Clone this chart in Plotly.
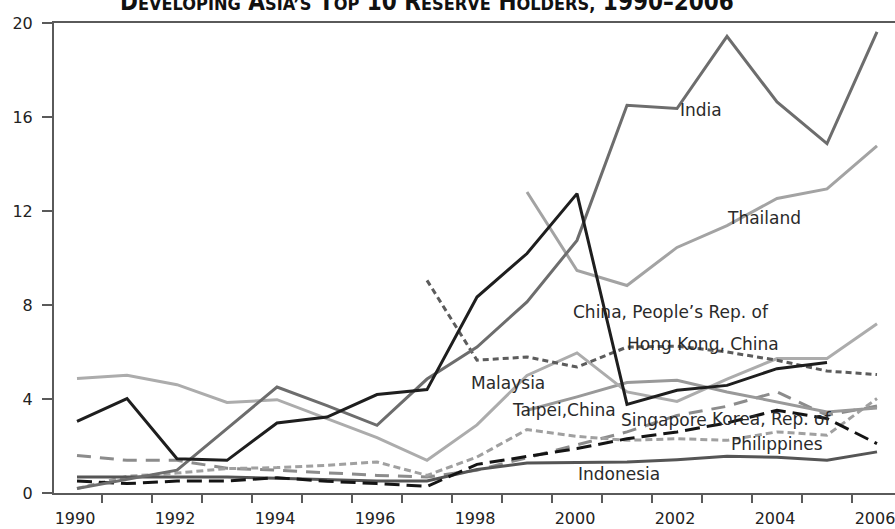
import plotly.graph_objects as go

years = list(range(1990, 2007))
tick_years = list(range(1990, 2007, 2))

china = [4.87, 5.01, 4.61, 3.85, 3.97, 3.18, 2.36, 1.39, 2.9, 5.0, 5.96, 4.3, 3.9, 4.85, 5.72, 5.72, 7.2]
malaysia = [3.05, 4.02, 1.46, 1.39, 2.98, 3.23, 4.19, 4.4, 8.34, 10.19, 12.74, 3.77, 4.37, 4.58, 5.29, 5.55, None]
india = [0.19, 0.58, 0.97, 2.74, 4.51, 3.72, 2.88, 4.85, 6.21, 8.13, 10.75, 16.5, 16.36, 19.43, 16.64, 14.87, 19.62]
thailand = [None] * 9 + [12.81, 9.47, 8.83, 10.45, 11.38, 12.53, 12.94, 14.77]
hongkong = [None] * 7 + [9.05, 5.65, 5.79, 5.36, 6.21, 6.25, 6.0, 5.65, 5.19, 5.04]
taipei = [None] * 9 + [3.52, 4.09, 4.7, 4.8, 4.3, 3.87, 3.45, 3.62]
singapore = [1.6, 1.39, 1.39, 1.05, 0.97, 0.85, 0.75, 0.68, 0.97, 1.5, 2.05, 2.6, 3.3, 3.69, 4.3, 3.31, 3.7]
philippines = [0.19, 0.71, 0.85, 1.04, 1.08, 1.18, 1.32, 0.75, 1.53, 2.7, 2.41, 2.24, 2.31, 2.24, 2.6, 2.46, 4.02]
korea = [0.51, 0.4, 0.51, 0.51, 0.65, 0.5, 0.4, 0.28, 1.22, 1.56, 1.89, 2.31, 2.6, 2.98, 3.52, 3.17, 2.1]
indonesia = [0.68, 0.68, 0.68, 0.68, 0.63, 0.58, 0.51, 0.51, 1.0, 1.28, 1.3, 1.32, 1.42, 1.56, 1.52, 1.39, 1.75]

label_text = ["India", "Thailand", "China, People\u2019s Rep. of", "Hong Kong, China", "Malaysia",
              "Taipei,China", "Singapore", "Korea, Rep. of", "Philippines", "Indonesia"]
label_x = [2002.02, 2002.96, 1999.88, 2000.96, 1997.84, 1998.66, 2000.84, 2002.66, 2003.04, 1999.98]
label_y = [16.28, 11.69, 7.69, 6.33, 4.68, 3.55, 3.12, 3.15, 2.1, 0.83]

FONT = "DejaVu Sans, sans-serif"
TFONT = "DejaVu Sans Condensed, DejaVu Sans, sans-serif"

series = [
    ("Singapore", singapore, "#8c8c8c", "14px,9px"),
    ("Philippines", philippines, "#a0a0a0", "7px,4px"),
    ("Indonesia", indonesia, "#555555", "solid"),
    ("Korea, Rep. of", korea, "#141414", "15px,7px"),
    ("Taipei,China", taipei, "#999999", "solid"),
    ("China, People's Rep. of", china, "#acacac", "solid"),
    ("Hong Kong, China", hongkong, "#5c5c5c", "6px,4px"),
    ("Thailand", thailand, "#a3a3a3", "solid"),
    ("India", india, "#6d6d6d", "solid"),
    ("Malaysia", malaysia, "#1e1e1e", "solid"),
]

fig = go.Figure()
for name, vals, color, dash in series:
    fig.add_trace(go.Scatter(x=years, y=vals, mode="lines", name=name,
                             line=dict(color=color, width=3, dash=dash),
                             connectgaps=False, hoverinfo="skip"))

for t, x, y in zip(label_text, label_x, label_y):
    fig.add_annotation(x=x, y=y, text=t, showarrow=False, xanchor="left", yanchor="middle",
                       font=dict(family=FONT, size=17, color="#2a2a2a"))

small = 'font-size:18px'
def sc(word):
    return f'{word[0]}<span style="{small}">{word[1:]}</span>'
title = (sc("DEVELOPING") + " " + sc("ASIA\u2019S") + " " + sc("TOP") + " 10 " + sc("RESERVE") + " "
         + sc("HOLDERS,") + " 1990\u20132006")
fig.add_annotation(x=0.4435, y=1.0106, xref="paper", yref="paper", text="<b>" + title + "</b>",
                   showarrow=False, xanchor="center", yanchor="bottom",
                   font=dict(family=TFONT, size=24, color="#111111"))

fig.update_layout(
    width=895, height=529,
    margin=dict(l=54, r=0, t=23, b=36),
    paper_bgcolor="white", plot_bgcolor="white",
    showlegend=False,
    xaxis=dict(range=[1989.54, 2006.36], tickmode="array", tickvals=tick_years,
               ticktext=[str(v) for v in tick_years], ticks="", showgrid=False, zeroline=False,
               showline=True, linecolor="#5a5a5a", linewidth=2, mirror=True,
               ticklabelstandoff=10, ticklabelshift=-2, automargin=False, ticklabeloverflow="allow",
               tickfont=dict(family=FONT, size=16, color="#222222"),
               minor=dict(tick0=1990.5, dtick=1, ticks="outside", ticklen=8, tickwidth=2,
                          tickcolor="#5a5a5a", showgrid=False)),
    yaxis=dict(range=[0, 20], tickvals=[0, 4, 8, 12, 16, 20], ticks="outside", ticklen=10,
               tickwidth=2, tickcolor="#5a5a5a", showgrid=False, zeroline=False,
               showline=True, linecolor="#5a5a5a", linewidth=2, automargin=False,
               ticklabelstandoff=6,
               tickfont=dict(family=FONT, size=16, color="#222222")),
)

fig.write_html("out.html", config={"displayModeBar": False},
               post_script="document.body.style.margin='0';")
